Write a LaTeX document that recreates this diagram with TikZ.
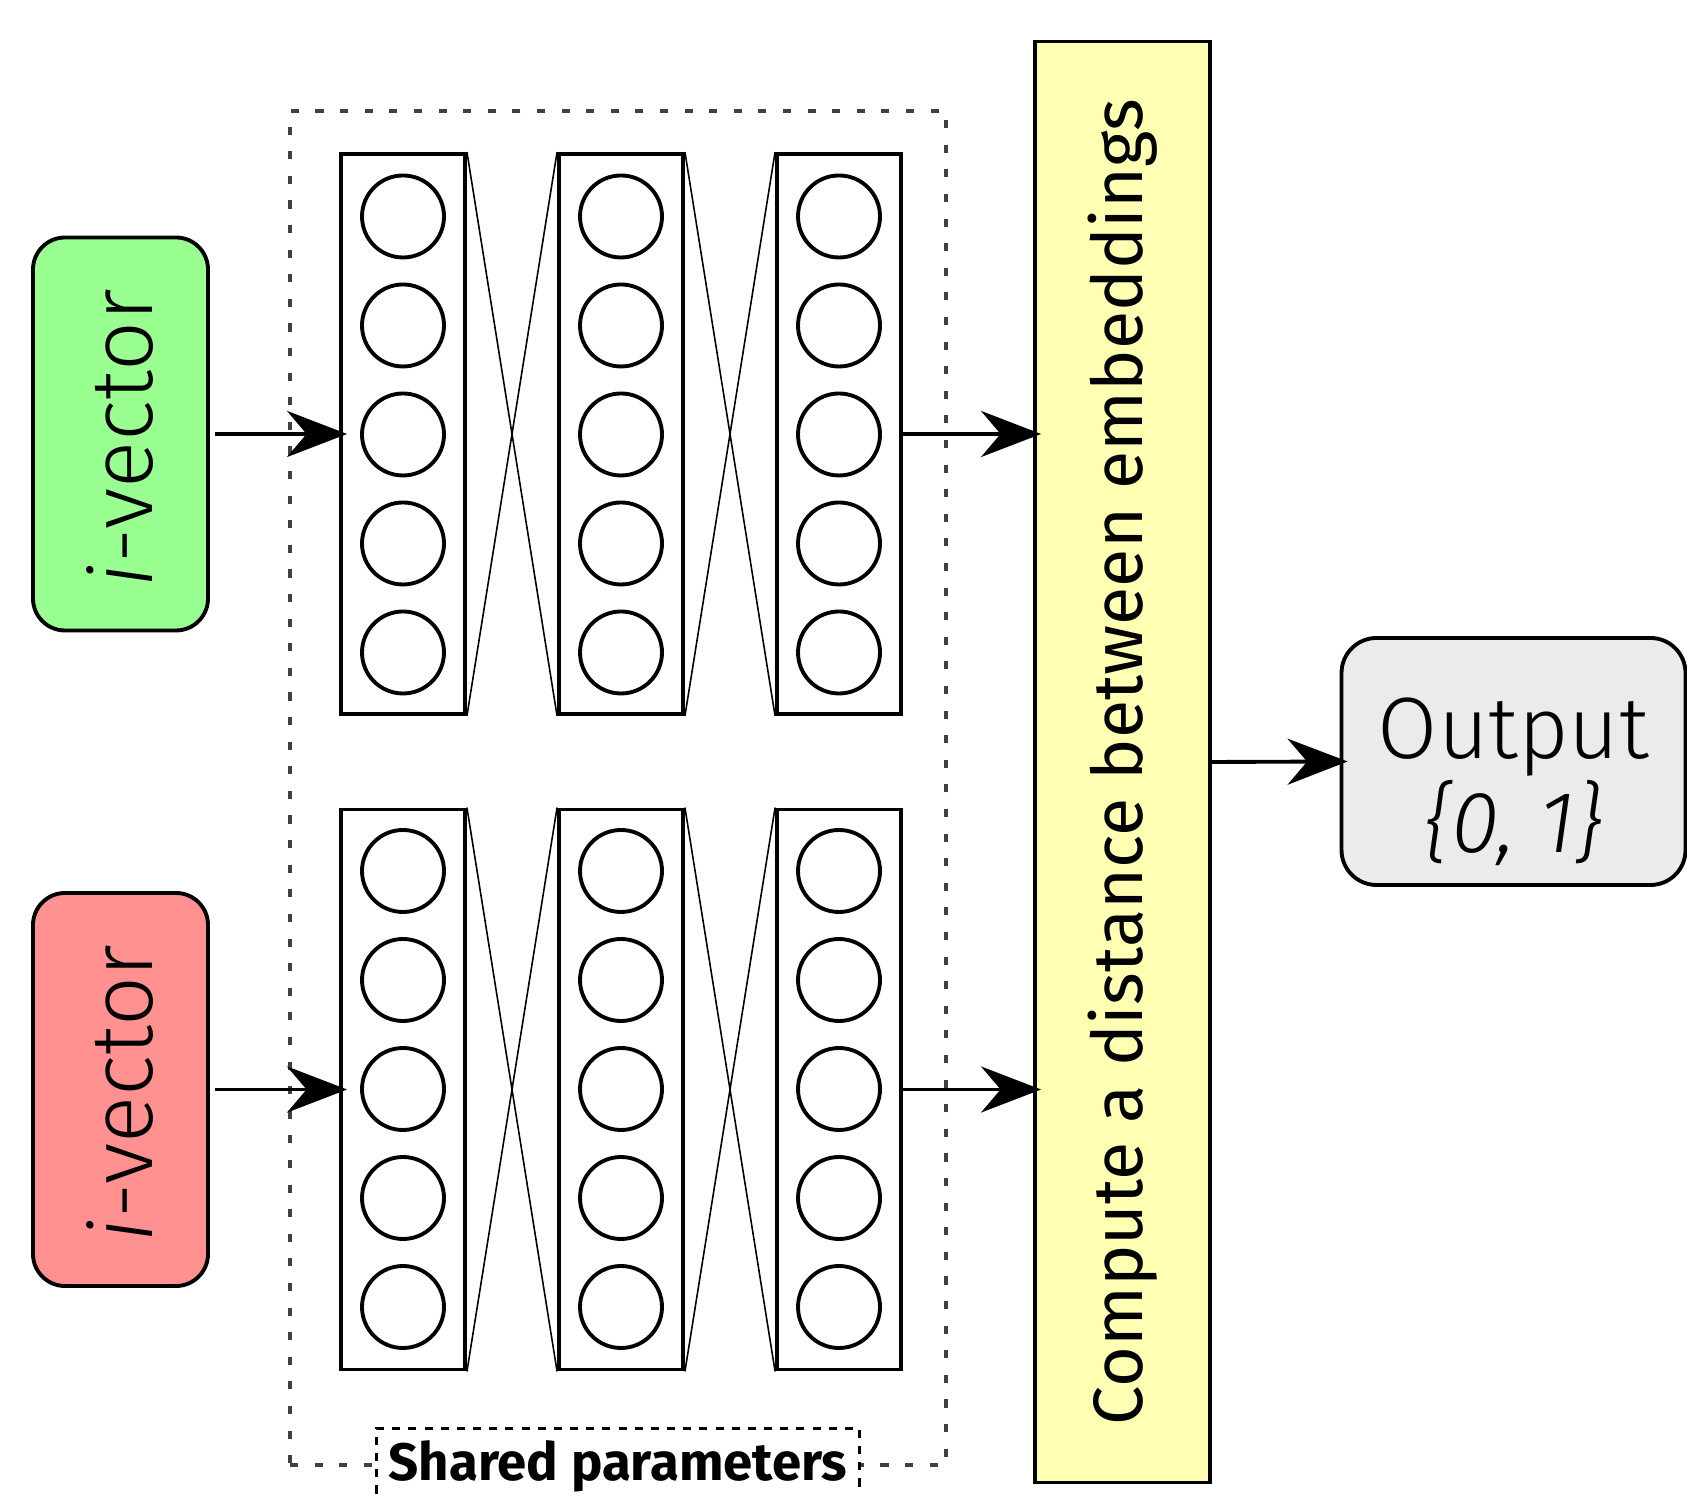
\documentclass[tikz,border=0pt]{standalone}
\usepackage{fontspec}
\setmainfont{Fira Sans Light}[BoldFont={Fira Sans Bold},ItalicFont={Fira Sans Light Italic}]
\newfontfamily\firareg{Fira Sans}
\usetikzlibrary{arrows.meta,positioning}
\definecolor{ivgreen}{RGB}{153,255,145}
\definecolor{ivred}{RGB}{255,145,145}
\definecolor{distyellow}{RGB}{255,255,179}
\definecolor{outgray}{RGB}{235,235,235}
\tikzset{ivec/.style={draw=black,line width=1.1pt,rounded corners=0.32cm,minimum width=1.75cm,minimum height=3.93cm,inner sep=0pt}}
\tikzset{layer/.style={draw=black,line width=1.1pt,minimum width=1.24cm,minimum height=5.6cm,inner sep=0pt}}
\tikzset{neuron/.style={circle,draw=black,line width=1.1pt,minimum size=0.82cm,inner sep=0pt}}
\tikzset{conn/.style={line width=0.45pt}}
\tikzset{feed/.style={line width=1.1pt,shorten >=-0.08cm,-{Stealth[length=6mm,width=4.6mm]}}}
\tikzset{sharebox/.style={draw=black!75,line width=0.9pt,dash pattern=on 2.3pt off 4.7pt,minimum width=6.56cm,minimum height=13.54cm}}
\tikzset{sharelabel/.style={draw=black,fill=white,line width=0.9pt,dash pattern=on 2.3pt off 2.3pt,inner sep=3.5pt,font=\fontsize{15}{18}\selectfont\bfseries}}
\begin{document}
\begin{tikzpicture}[font=\fontsize{24.8}{24.7}\selectfont]
\useasboundingbox (0,0) rectangle (16.87,14.93);
% frame round the two towers
\node (shared) at (6.18,7.05) [sharebox] {};
% inputs
\node (ivtop) at (1.205,10.59) [ivec,fill=ivgreen] {};
\node at ([yshift=-0.04cm]ivtop) [rotate=90,font=\fontsize{24.9}{28}\selectfont] {\textit{i}-vector};
\node (ivbot) at (1.205,4.035) [ivec,fill=ivred] {};
\node at ([yshift=-0.04cm]ivbot) [rotate=90,font=\fontsize{24.9}{28}\selectfont] {\textit{i}-vector};
% layers and neurons
\foreach \n/\x in {1/4.03,2/6.21,3/8.39}{
  \node (t\n) at (\x,10.59) [layer] {};
  \node (b\n) at (\x,4.035) [layer] {};
  \foreach \k in {1,...,5}{
    \node (t\n-\k) at (\x,{10.585+(3-\k)*1.09}) [neuron] {};
    \node (b\n-\k) at (\x,{4.04+(3-\k)*1.09}) [neuron] {};
  }
}
\foreach \a/\b in {1/2,2/3}{
  \draw[conn] (t\a.north east) -- (t\b.south west) (t\a.south east) -- (t\b.north west);
  \draw[conn] (b\a.north east) -- (b\b.south west) (b\a.south east) -- (b\b.north west);
}
% distance and output
\node (dist) at (11.225,7.31) [draw,line width=1.1pt,fill=distyellow,minimum width=1.75cm,minimum height=14.41cm] {};
\node at (dist) [rotate=90,font=\firareg\fontsize{19.9}{24}\selectfont] {Compute a distance between embeddings};
\node (out) at (15.135,7.315) [draw,line width=1.1pt,fill=outgray,rounded corners=0.35cm,minimum width=3.44cm,minimum height=2.47cm] {};
\node at ([yshift=-0.2cm]out) [align=center] {Output\\\textit{\{0, 1\}}};
% arrows
\draw[feed,shorten <=0.05cm] (ivtop.east) -- (t1.west);
\draw[feed,shorten <=0.05cm] (ivbot.east) -- (b1.west);
\draw[feed] (t3.east) -- (t3.east -| dist.west);
\draw[feed] (b3.east) -- (b3.east -| dist.west);
\draw[feed] (dist.east) -- (out.west);
\node at (shared.south) [sharelabel] {Shared parameters};
\end{tikzpicture}
\end{document}
